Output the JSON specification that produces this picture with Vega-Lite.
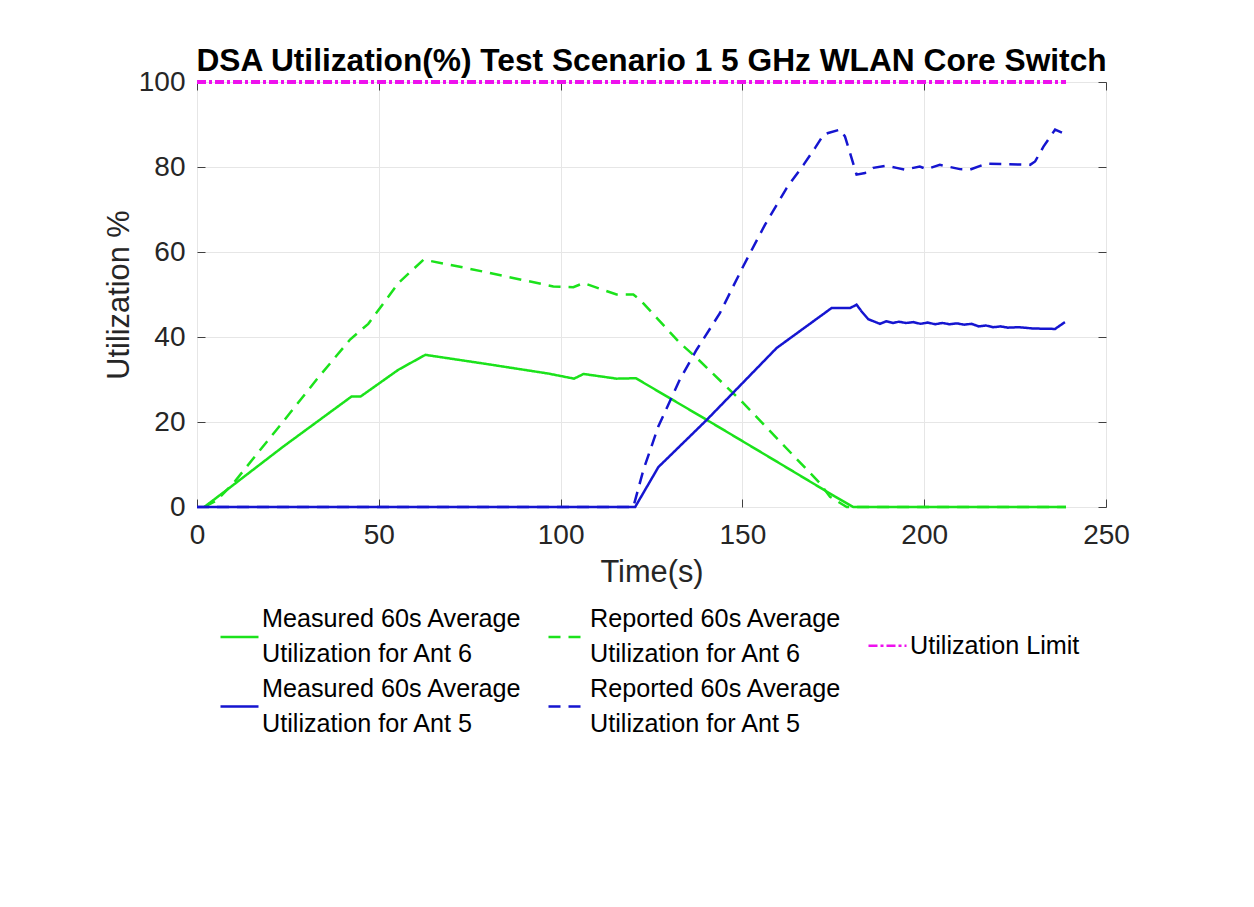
{
  "$schema": "https://vega.github.io/schema/vega-lite/v6.json",
  "width": 909,
  "height": 425,
  "autosize": {"type": "none"},
  "padding": {"left": 197, "top": 82, "right": 148, "bottom": 400},
  "background": "white",
  "config": {
    "font": "Liberation Sans",
    "view": {"stroke": "#8c8c8c", "strokeWidth": 1},
    "axis": {
      "labelFont": "Liberation Sans",
      "labelFontSize": 28,
      "labelColor": "#262626",
      "labelFlush": false,
      "titleFont": "Liberation Sans",
      "titleFontSize": 30.8,
      "titleFontWeight": "normal",
      "titleColor": "#262626",
      "gridColor": "#e6e6e6",
      "gridWidth": 1,
      "tickColor": "#404040",
      "tickWidth": 1,
      "domain": false
    }
  },
  "title": {
    "text": "DSA Utilization(%) Test Scenario 1 5 GHz WLAN Core Switch",
    "font": "Liberation Sans",
    "fontSize": 31.7,
    "fontWeight": "bold",
    "color": "#000000",
    "anchor": "middle",
    "baseline": "alphabetic",
    "offset": -35
  },
  "data": {
    "values": [
      {"s": "M6", "t": 2, "v": 0}, {"s": "M6", "t": 10, "v": 5.2}, {"s": "M6", "t": 23.7, "v": 14.2}, {"s": "M6", "t": 42.5, "v": 26}, {"s": "M6", "t": 45, "v": 26}, {"s": "M6", "t": 55.4, "v": 32.3}, {"s": "M6", "t": 62.8, "v": 35.8}, {"s": "M6", "t": 80, "v": 33.6}, {"s": "M6", "t": 96.6, "v": 31.4}, {"s": "M6", "t": 103.7, "v": 30.2}, {"s": "M6", "t": 106.3, "v": 31.3}, {"s": "M6", "t": 115.4, "v": 30.2}, {"s": "M6", "t": 120.7, "v": 30.3}, {"s": "M6", "t": 140.2, "v": 20.5}, {"s": "M6", "t": 160, "v": 10.4}, {"s": "M6", "t": 176, "v": 2.2}, {"s": "M6", "t": 180.5, "v": 0}, {"s": "M6", "t": 239, "v": 0},
      {"s": "R6", "t": 2, "v": 0}, {"s": "R6", "t": 5.4, "v": 1.5}, {"s": "R6", "t": 10, "v": 5.6}, {"s": "R6", "t": 23.7, "v": 20.1}, {"s": "R6", "t": 32.9, "v": 30}, {"s": "R6", "t": 42.1, "v": 39.4}, {"s": "R6", "t": 47.1, "v": 43.1}, {"s": "R6", "t": 55.4, "v": 52.7}, {"s": "R6", "t": 62.3, "v": 58.2}, {"s": "R6", "t": 74.2, "v": 56.2}, {"s": "R6", "t": 98, "v": 51.9}, {"s": "R6", "t": 103.5, "v": 51.7}, {"s": "R6", "t": 106.3, "v": 52.7}, {"s": "R6", "t": 115.4, "v": 50}, {"s": "R6", "t": 120, "v": 50}, {"s": "R6", "t": 121.8, "v": 48.8}, {"s": "R6", "t": 132.8, "v": 38.6}, {"s": "R6", "t": 137.4, "v": 35.1}, {"s": "R6", "t": 150.2, "v": 24.5}, {"s": "R6", "t": 171.3, "v": 5.6}, {"s": "R6", "t": 174.1, "v": 2.4}, {"s": "R6", "t": 178.7, "v": 0}, {"s": "R6", "t": 239, "v": 0},
      {"s": "M5", "t": 0, "v": 0}, {"s": "M5", "t": 120.5, "v": 0}, {"s": "M5", "t": 126.9, "v": 9.4}, {"s": "M5", "t": 140.2, "v": 20.5}, {"s": "M5", "t": 159.4, "v": 37.4}, {"s": "M5", "t": 174.5, "v": 46.8}, {"s": "M5", "t": 179.6, "v": 46.8}, {"s": "M5", "t": 181.4, "v": 47.6}, {"s": "M5", "t": 182.8, "v": 46}, {"s": "M5", "t": 184.6, "v": 44.2}, {"s": "M5", "t": 187.8, "v": 43.1}, {"s": "M5", "t": 189.6, "v": 43.7}, {"s": "M5", "t": 191.5, "v": 43.3}, {"s": "M5", "t": 193, "v": 43.6}, {"s": "M5", "t": 195, "v": 43.3}, {"s": "M5", "t": 197, "v": 43.5}, {"s": "M5", "t": 199, "v": 43.1}, {"s": "M5", "t": 201, "v": 43.4}, {"s": "M5", "t": 203, "v": 43.0}, {"s": "M5", "t": 205, "v": 43.3}, {"s": "M5", "t": 207, "v": 43.0}, {"s": "M5", "t": 209, "v": 43.2}, {"s": "M5", "t": 211, "v": 42.9}, {"s": "M5", "t": 213, "v": 43.1}, {"s": "M5", "t": 215, "v": 42.5}, {"s": "M5", "t": 217, "v": 42.7}, {"s": "M5", "t": 219, "v": 42.3}, {"s": "M5", "t": 221, "v": 42.5}, {"s": "M5", "t": 223, "v": 42.2}, {"s": "M5", "t": 226, "v": 42.3}, {"s": "M5", "t": 230, "v": 42.0}, {"s": "M5", "t": 236, "v": 41.9}, {"s": "M5", "t": 238.7, "v": 43.5},
      {"s": "R5", "t": 0, "v": 0}, {"s": "R5", "t": 120, "v": 0}, {"s": "R5", "t": 122.8, "v": 8.8}, {"s": "R5", "t": 126.9, "v": 19}, {"s": "R5", "t": 132.8, "v": 30}, {"s": "R5", "t": 137.4, "v": 37}, {"s": "R5", "t": 143.8, "v": 45.6}, {"s": "R5", "t": 150.2, "v": 56.6}, {"s": "R5", "t": 156.2, "v": 66.4}, {"s": "R5", "t": 162.2, "v": 75.1}, {"s": "R5", "t": 166.8, "v": 80.5}, {"s": "R5", "t": 170, "v": 84.5}, {"s": "R5", "t": 172.3, "v": 87.6}, {"s": "R5", "t": 173.6, "v": 88.0}, {"s": "R5", "t": 176.8, "v": 88.8}, {"s": "R5", "t": 178.2, "v": 87.2}, {"s": "R5", "t": 179.6, "v": 83.3}, {"s": "R5", "t": 181.4, "v": 78.2}, {"s": "R5", "t": 183.7, "v": 78.6}, {"s": "R5", "t": 186, "v": 79.8}, {"s": "R5", "t": 189.7, "v": 80.3}, {"s": "R5", "t": 192.4, "v": 79.8}, {"s": "R5", "t": 194.7, "v": 79.4}, {"s": "R5", "t": 198.8, "v": 80.1}, {"s": "R5", "t": 200.7, "v": 79.5}, {"s": "R5", "t": 204.3, "v": 80.5}, {"s": "R5", "t": 209.8, "v": 79.5}, {"s": "R5", "t": 212.6, "v": 79.4}, {"s": "R5", "t": 217.2, "v": 80.8}, {"s": "R5", "t": 229.1, "v": 80.5}, {"s": "R5", "t": 230.5, "v": 81.3}, {"s": "R5", "t": 232.8, "v": 84.8}, {"s": "R5", "t": 236, "v": 88.8}, {"s": "R5", "t": 238.7, "v": 87.8},
      {"s": "L", "t": 0, "v": 100}, {"s": "L", "t": 239, "v": 100}
    ]
  },
  "layer": [
    {
      "transform": [{"filter": "datum.s != 'L'"}],
      "mark": {"type": "line", "strokeWidth": 2.5},
      "encoding": {
        "x": {"field": "t", "type": "quantitative", "scale": {"domain": [0, 250], "nice": false},
              "axis": {"title": "Time(s)", "values": [0, 50, 100, 150, 200, 250], "grid": true, "tickSize": -8, "labelPadding": 22, "titlePadding": 8}},
        "y": {"field": "v", "type": "quantitative", "scale": {"domain": [0, 100], "nice": false},
              "axis": {"title": "Utilization %", "values": [0, 20, 40, 60, 80, 100], "grid": true, "tickSize": -8, "labelPadding": 20, "titlePadding": 4}},
        "color": {"field": "s", "type": "nominal",
                  "scale": {"domain": ["M6", "R6", "L", "M5", "R5"], "range": ["#1be21b", "#1be21b", "#ee11ee", "#1515d0", "#1515d0"]},
                  "legend": {"title": null, "orient": "none", "legendX": 22, "legendY": 534, "direction": "horizontal", "columns": 3, "columnPadding": 21, "rowPadding": 9, "symbolType": "stroke", "symbolSize": 1444, "symbolStrokeWidth": 2.5, "labelFontSize": 25.2, "labelFont": "Liberation Sans", "labelColor": "#000000", "labelLimit": 600, "labelOffset": 2,
                             "labelExpr": "datum.label == 'M6' ? ['Measured 60s Average', 'Utilization for Ant 6'] : datum.label == 'R6' ? ['Reported 60s Average', 'Utilization for Ant 6'] : datum.label == 'M5' ? ['Measured 60s Average', 'Utilization for Ant 5'] : datum.label == 'R5' ? ['Reported 60s Average', 'Utilization for Ant 5'] : 'Utilization Limit'",
                             "encode": {"labels": {"update": {"lineHeight": {"value": 35}, "dy": {"signal": "datum.value == 'L' ? 0 : -17.5"}}}}}},
        "strokeDash": {"field": "s", "type": "nominal",
                  "scale": {"domain": ["M6", "R6", "L", "M5", "R5"], "range": [[1, 0], [12, 8], [9, 3, 3, 3], [1, 0], [12, 8]]},
                  "legend": {"title": null, "orient": "none", "legendX": 22, "legendY": 534, "direction": "horizontal", "columns": 3, "columnPadding": 21, "rowPadding": 9, "symbolType": "stroke", "symbolSize": 1444, "symbolStrokeWidth": 2.5, "labelFontSize": 25.2, "labelFont": "Liberation Sans", "labelColor": "#000000", "labelLimit": 600, "labelOffset": 2,
                             "labelExpr": "datum.label == 'M6' ? ['Measured 60s Average', 'Utilization for Ant 6'] : datum.label == 'R6' ? ['Reported 60s Average', 'Utilization for Ant 6'] : datum.label == 'M5' ? ['Measured 60s Average', 'Utilization for Ant 5'] : datum.label == 'R5' ? ['Reported 60s Average', 'Utilization for Ant 5'] : 'Utilization Limit'",
                             "encode": {"labels": {"update": {"lineHeight": {"value": 35}, "dy": {"signal": "datum.value == 'L' ? 0 : -17.5"}}}}}}
      }
    },
    {
      "transform": [{"filter": "datum.s == 'L'"}],
      "mark": {"type": "line", "strokeWidth": 4},
      "encoding": {
        "x": {"field": "t", "type": "quantitative", "scale": {"domain": [0, 250], "nice": false},
              "axis": {"orient": "top", "title": null, "labels": false, "grid": false, "values": [0, 50, 100, 150, 200, 250], "tickSize": -8}},
        "y": {"field": "v", "type": "quantitative", "scale": {"domain": [0, 100], "nice": false},
              "axis": {"orient": "right", "title": null, "labels": false, "grid": false, "values": [0, 20, 40, 60, 80, 100], "tickSize": -8}},
        "color": {"field": "s", "type": "nominal"},
        "strokeDash": {"field": "s", "type": "nominal"}
      }
    }
  ],
  "resolve": {"axis": {"x": "independent", "y": "independent"}}
}
